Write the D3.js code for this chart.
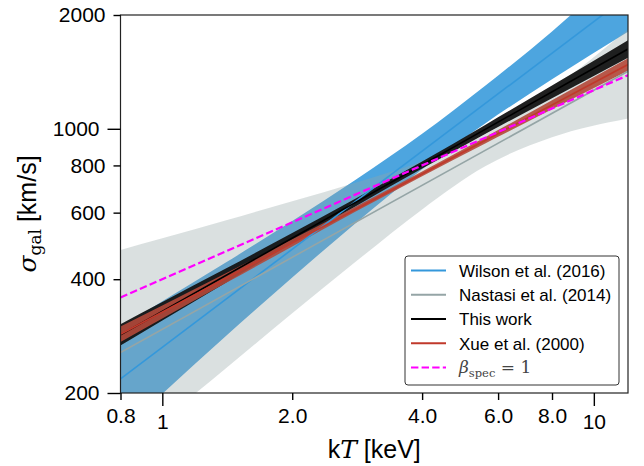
<!DOCTYPE html>
<html>
<head>
<meta charset="utf-8">
<script src="https://cdn.jsdelivr.net/npm/d3@7"></script>
<style>
  html, body { margin: 0; padding: 0; background: #fff; }
  svg { display: block; }
</style>
</head>
<body>
<svg id="chart" width="644" height="466"></svg>
<script>
// ---- data ----
const tGrid = [0.8, 1, 1.4, 2, 2.8, 4, 5.6, 8, 12];           // kT [keV]
const wilsonUpper   = [299, 350, 442, 570, 732, 970, 1300, 1810, 2750];
const wilsonLower   = [158, 199, 282, 404, 562, 781, 1033, 1352, 1807];
const nastasiUpper  = [478, 513, 572, 643, 720, 821, 967, 1272, 1834];
const nastasiLower  = [137, 169, 232, 325, 444, 612, 796, 950, 1065];
const thisWorkUpper = [304, 348, 426, 530, 653, 819, 1024, 1302, 1715];
const thisWorkLower = [267, 311, 391, 498, 623, 785, 969, 1205, 1542];
const xueUpper      = [300, 341, 414, 510, 622, 771, 950, 1189, 1536];
const xueLower      = [273, 315, 390, 488, 603, 749, 914, 1126, 1425];

const lineT        = [0.8, 12];
const wilsonLine   = [218, 2248];
const nastasiLine  = [256, 1420];
const thisWorkLine = [285, 1626];
const xueLine      = [286, 1479];
const betaLine     = [358, 1386];

const xMajorTicks = [1, 10];
const xMajorLabels = ["1", "10"];
const xMinorTicks = [0.8, 2, 4, 6, 8];
const xMinorLabels = ["0.8", "2.0", "4.0", "6.0", "8.0"];
const yMajorTicks = [200, 1000];
const yMajorLabels = ["200", "1000"];
const yMinorTicks = [400, 600, 800, 2000];
const yMinorLabels = ["400", "600", "800", "2000"];

const legendNames = ["Wilson et al. (2016)", "Nastasi et al. (2014)", "This work", "Xue et al. (2000)"];

// ---- layout ----
const L = 120.5, R = 628, T = 15, B = 393;
const svg = d3.select("#chart");
const x = d3.scaleLog().domain([0.8, 12]).range([L, R]);
const y = d3.scaleLog().domain([200, 2000]).range([B, T]);
const sans = "'Liberation Sans', Arial, sans-serif";
const serif = "'DejaVu Serif', 'Liberation Serif', serif";

svg.append("defs").append("clipPath").attr("id", "clip")
  .append("rect").attr("x", L).attr("y", T).attr("width", R - L).attr("height", B - T);

const plot = svg.append("g").attr("clip-path", "url(#clip)");

function bandData(lo, hi) { return tGrid.map((t, i) => ({t, lo: lo[i], hi: hi[i]})); }
const area = d3.area().x(d => x(d.t)).y0(d => y(d.lo)).y1(d => y(d.hi)).curve(d3.curveMonotoneX);
const line = d3.line().x(d => x(d.t)).y(d => y(d.v));
function lineData(vals) { return lineT.map((t, i) => ({t, v: vals[i]})); }

// bands
plot.append("path").attr("d", area(bandData(wilsonLower, wilsonUpper)))
  .attr("fill", "#3498db").attr("fill-opacity", 0.88);
plot.append("path").attr("d", area(bandData(nastasiLower, nastasiUpper)))
  .attr("fill", "#95a5a6").attr("fill-opacity", 0.35);
plot.append("path").attr("d", area(bandData(thisWorkLower, thisWorkUpper)))
  .attr("fill", "#141414").attr("fill-opacity", 0.95);
plot.append("path").attr("d", area(bandData(xueLower, xueUpper)))
  .attr("fill", "#b3493a").attr("fill-opacity", 0.9);

// lines
const lineStyles = [
  [wilsonLine, "#3498db"], [nastasiLine, "#95a5a6"], [thisWorkLine, "#000000"], [xueLine, "#c0392b"]
];
lineStyles.forEach(([vals, c]) => {
  plot.append("path").attr("d", line(lineData(vals))).attr("fill", "none")
    .attr("stroke", c).attr("stroke-width", 1.6);
});
plot.append("path").attr("d", line(lineData(betaLine))).attr("fill", "none")
  .attr("stroke", "#ff00ff").attr("stroke-width", 2.2).attr("stroke-dasharray", "7.4,3.2");

// frame
svg.append("rect").attr("x", L).attr("y", T).attr("width", R - L).attr("height", B - T)
  .attr("fill", "none").attr("stroke", "#222").attr("stroke-width", 1.2);

// axes
function styleAxis(g) {
  g.select(".domain").remove();
  g.selectAll(".tick line").attr("stroke", "#000").attr("stroke-width", 1.4);
  g.selectAll(".tick text").attr("font-family", sans).attr("font-size", 21).attr("fill", "#000");
}
svg.append("g").attr("transform", `translate(0,${B})`)
  .call(d3.axisBottom(x).tickValues(xMinorTicks).tickSize(7).tickPadding(8)
    .tickFormat((d, i) => xMinorLabels[i])).call(styleAxis);
svg.append("g").attr("transform", `translate(0,${B})`)
  .call(d3.axisBottom(x).tickValues(xMajorTicks).tickSize(13).tickPadding(8)
    .tickFormat((d, i) => xMajorLabels[i])).call(styleAxis);
svg.append("g").attr("transform", `translate(${L},0)`)
  .call(d3.axisLeft(y).tickValues(yMinorTicks).tickSize(7).tickPadding(8)
    .tickFormat((d, i) => yMinorLabels[i])).call(styleAxis);
svg.append("g").attr("transform", `translate(${L},0)`)
  .call(d3.axisLeft(y).tickValues(yMajorTicks).tickSize(13).tickPadding(8)
    .tickFormat((d, i) => yMajorLabels[i])).call(styleAxis);

// axis labels
const xl = svg.append("text").attr("x", (L + R) / 2).attr("y", 458)
  .attr("text-anchor", "middle").attr("font-size", 25).attr("font-family", sans).attr("fill", "#000");
xl.append("tspan").text("k");
xl.append("tspan").attr("font-family", serif).attr("font-style", "italic").text("T");
xl.append("tspan").text(" [keV]");

const yl = svg.append("text").attr("transform", "translate(36,214) rotate(-90)")
  .attr("text-anchor", "middle").attr("font-size", 25).attr("font-family", sans).attr("fill", "#000");
yl.append("tspan").attr("font-family", serif).attr("font-style", "italic").text("σ");
yl.append("tspan").attr("font-family", serif).attr("font-size", 17).attr("dy", 5).text("gal");
yl.append("tspan").attr("dy", -5).text(" [km/s]");

// legend
const lg = svg.append("g");
lg.append("rect").attr("x", 405).attr("y", 256).attr("width", 214).attr("height", 129)
  .attr("rx", 3).attr("fill", "#fff").attr("fill-opacity", 0.85)
  .attr("stroke", "#333").attr("stroke-width", 1);
const legColors = ["#3498db", "#95a5a6", "#000000", "#c0392b"];
const ly0 = 270.6, lstep = 24.2;
legendNames.forEach((name, i) => {
  const yy = ly0 + i * lstep;
  lg.append("line").attr("x1", 411).attr("x2", 446).attr("y1", yy).attr("y2", yy)
    .attr("stroke", legColors[i]).attr("stroke-width", 2);
  lg.append("text").attr("x", 459).attr("y", yy + 6.3).attr("font-family", sans)
    .attr("font-size", 17).attr("fill", "#000").text(name);
});
{
  const yy = ly0 + 4 * lstep;
  lg.append("line").attr("x1", 411).attr("x2", 446).attr("y1", yy).attr("y2", yy)
    .attr("stroke", "#ff00ff").attr("stroke-width", 2).attr("stroke-dasharray", "7.4,3.2");
  const bt = lg.append("text").attr("x", 459).attr("y", yy + 6).attr("font-family", serif)
    .attr("font-size", 17).attr("fill", "#444");
  bt.append("tspan").attr("font-style", "italic").text("β");
  bt.append("tspan").attr("font-size", 11.5).attr("dy", 4).text("spec");
  bt.append("tspan").attr("dy", -4).text(" = 1");
}
</script>
</body>
</html>
